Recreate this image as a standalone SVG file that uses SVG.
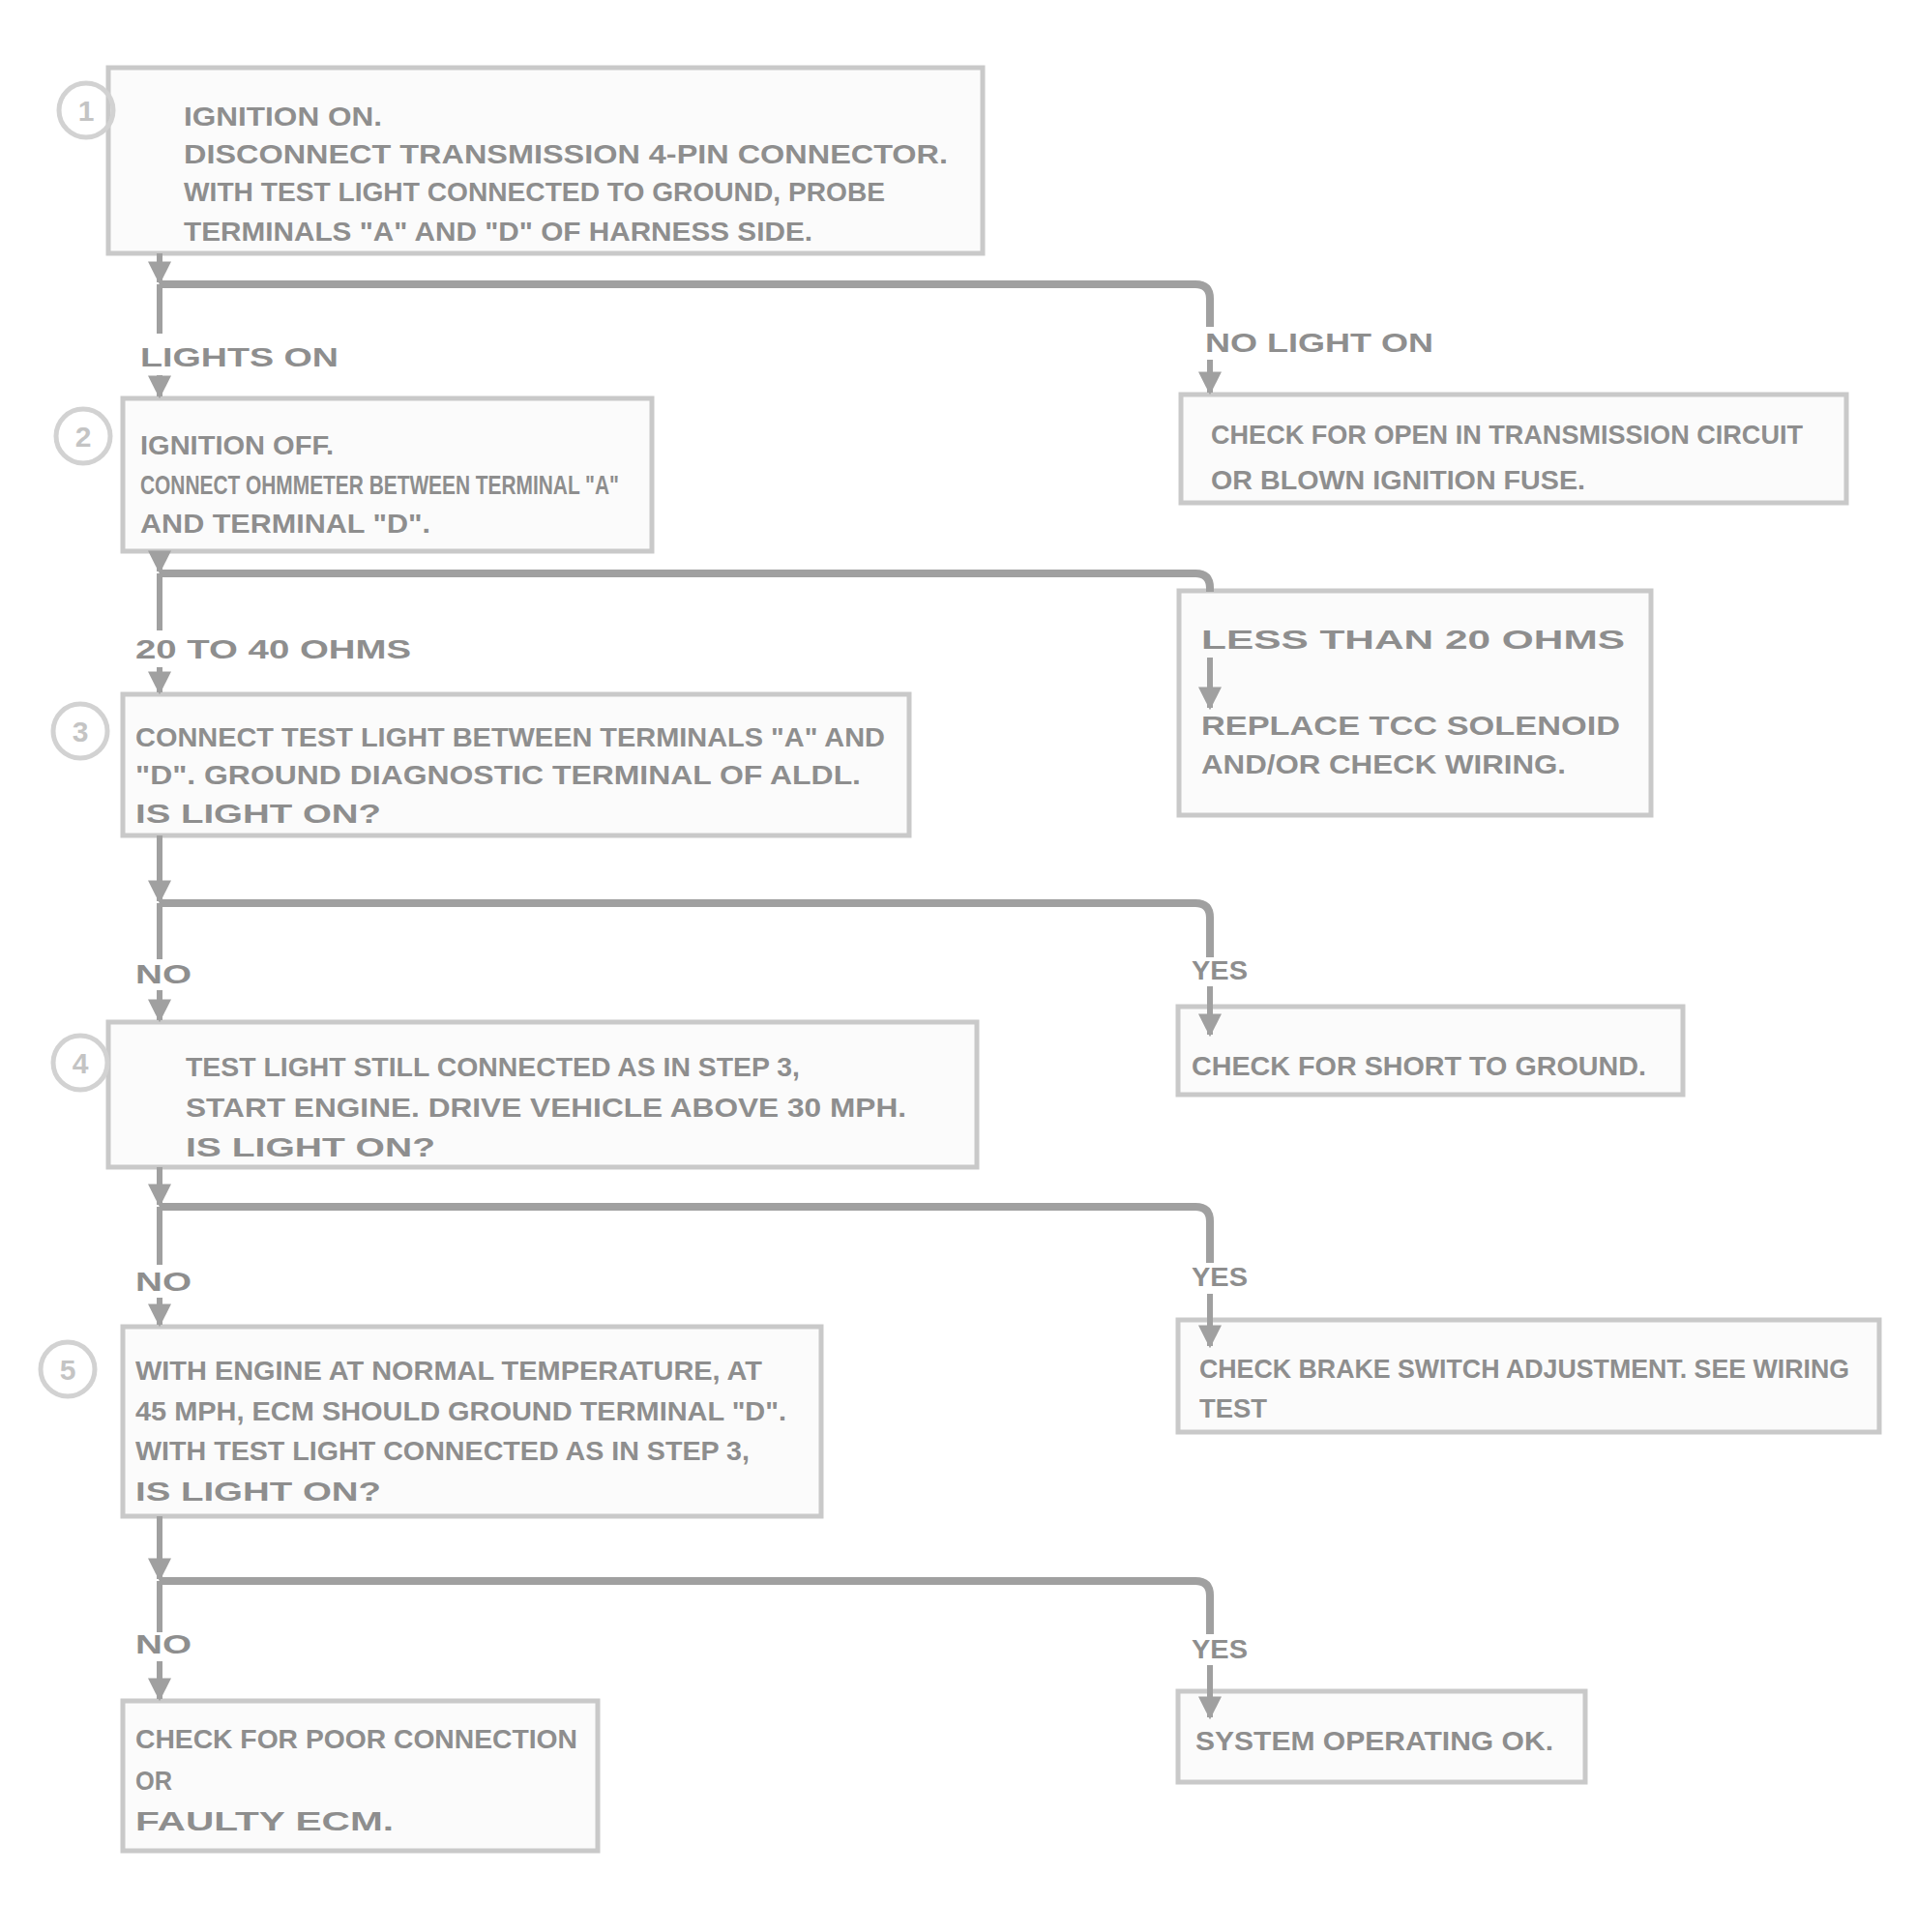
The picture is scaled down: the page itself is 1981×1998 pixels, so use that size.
<svg xmlns="http://www.w3.org/2000/svg" width="1981" height="1998" viewBox="0 0 1981 1998">
<style>
.box{fill:#fbfbfb;stroke:#c9c9c9;stroke-width:5}
.t{font-family:"Liberation Sans",Arial,sans-serif;font-weight:bold;font-size:28px;fill:#8e8e8e}
.num{font-family:"Liberation Sans",Arial,sans-serif;font-weight:bold;font-size:30px;fill:#c4c4c4;text-anchor:middle}
.circ{fill:none;stroke:#d2d2d2;stroke-width:5}
.ln{fill:none;stroke:#a0a0a0;stroke-width:8;stroke-linejoin:round}
.ar{fill:none;stroke:#a0a0a0;stroke-width:6}
</style>
<defs>
<marker id="ah" viewBox="0 0 10 10" refX="9" refY="5" markerWidth="4" markerHeight="4" orient="auto" markerUnits="strokeWidth">
<path d="M0,0 L10,5 L0,10 z" fill="#a0a0a0"/>
</marker>
</defs>
<rect width="1981" height="1998" fill="#ffffff"/>

<g id="step1">
<rect class="box" x="112" y="70" width="904" height="192"/>
<circle class="circ" cx="89" cy="114" r="28"/>
<text class="num" x="89" y="125">1</text>
<text class="t" x="190" y="130" textLength="205" lengthAdjust="spacingAndGlyphs">IGNITION ON.</text>
<text class="t" x="190" y="169" textLength="790" lengthAdjust="spacingAndGlyphs">DISCONNECT TRANSMISSION 4-PIN CONNECTOR.</text>
<text class="t" x="190" y="208" textLength="725" lengthAdjust="spacingAndGlyphs">WITH TEST LIGHT CONNECTED TO GROUND, PROBE</text>
<text class="t" x="190" y="249" textLength="650" lengthAdjust="spacingAndGlyphs">TERMINALS "A" AND "D" OF HARNESS SIDE.</text>
</g>

<g id="label1L"><text class="t" x="145" y="379" textLength="205" lengthAdjust="spacingAndGlyphs">LIGHTS ON</text></g>
<g id="label1R"><text class="t" x="1246" y="364" textLength="236" lengthAdjust="spacingAndGlyphs">NO LIGHT ON</text></g>

<g id="result1">
<rect class="box" x="1221" y="408" width="688" height="112"/>
<text class="t" x="1252" y="459" textLength="612" lengthAdjust="spacingAndGlyphs">CHECK FOR OPEN IN TRANSMISSION CIRCUIT</text>
<text class="t" x="1252" y="506" textLength="387" lengthAdjust="spacingAndGlyphs">OR BLOWN IGNITION FUSE.</text>
</g>

<g id="step2">
<rect class="box" x="127" y="412" width="547" height="158"/>
<circle class="circ" cx="86" cy="451" r="28"/>
<text class="num" x="86" y="462">2</text>
<text class="t" x="145" y="470" textLength="200" lengthAdjust="spacingAndGlyphs">IGNITION OFF.</text>
<text class="t" x="145" y="511" textLength="495" lengthAdjust="spacingAndGlyphs">CONNECT OHMMETER BETWEEN TERMINAL "A"</text>
<text class="t" x="145" y="551" textLength="300" lengthAdjust="spacingAndGlyphs">AND TERMINAL "D".</text>
</g>

<g id="label2L"><text class="t" x="140" y="681" textLength="285" lengthAdjust="spacingAndGlyphs">20 TO 40 OHMS</text></g>

<g id="result2">
<rect class="box" x="1219" y="611" width="488" height="232"/>
<text class="t" x="1242" y="671" textLength="438" lengthAdjust="spacingAndGlyphs">LESS THAN 20 OHMS</text>
<text class="t" x="1242" y="760" textLength="433" lengthAdjust="spacingAndGlyphs">REPLACE TCC SOLENOID</text>
<text class="t" x="1242" y="800" textLength="377" lengthAdjust="spacingAndGlyphs">AND/OR CHECK WIRING.</text>
</g>

<g id="step3">
<rect class="box" x="127" y="718" width="813" height="146"/>
<circle class="circ" cx="83" cy="756" r="28"/>
<text class="num" x="83" y="767">3</text>
<text class="t" x="140" y="772" textLength="775" lengthAdjust="spacingAndGlyphs">CONNECT TEST LIGHT BETWEEN TERMINALS "A" AND</text>
<text class="t" x="140" y="811" textLength="750" lengthAdjust="spacingAndGlyphs">"D". GROUND DIAGNOSTIC TERMINAL OF ALDL.</text>
<text class="t" x="140" y="851" textLength="254" lengthAdjust="spacingAndGlyphs">IS LIGHT ON?</text>
</g>

<g id="label3L"><text class="t" x="140" y="1017" textLength="58" lengthAdjust="spacingAndGlyphs">NO</text></g>
<g id="label3R"><text class="t" x="1232" y="1013" textLength="58" lengthAdjust="spacingAndGlyphs">YES</text></g>

<g id="result3">
<rect class="box" x="1218" y="1041" width="522" height="91"/>
<text class="t" x="1232" y="1112" textLength="470" lengthAdjust="spacingAndGlyphs">CHECK FOR SHORT TO GROUND.</text>
</g>

<g id="step4">
<rect class="box" x="112" y="1057" width="898" height="150"/>
<circle class="circ" cx="83" cy="1099" r="28"/>
<text class="num" x="83" y="1110">4</text>
<text class="t" x="192" y="1113" textLength="635" lengthAdjust="spacingAndGlyphs">TEST LIGHT STILL CONNECTED AS IN STEP 3,</text>
<text class="t" x="192" y="1155" textLength="745" lengthAdjust="spacingAndGlyphs">START ENGINE. DRIVE VEHICLE ABOVE 30 MPH.</text>
<text class="t" x="192" y="1196" textLength="258" lengthAdjust="spacingAndGlyphs">IS LIGHT ON?</text>
</g>

<g id="label4L"><text class="t" x="140" y="1335" textLength="58" lengthAdjust="spacingAndGlyphs">NO</text></g>
<g id="label4R"><text class="t" x="1232" y="1330" textLength="58" lengthAdjust="spacingAndGlyphs">YES</text></g>

<g id="result4">
<rect class="box" x="1218" y="1365" width="725" height="116"/>
<text class="t" x="1240" y="1425" textLength="672" lengthAdjust="spacingAndGlyphs">CHECK BRAKE SWITCH ADJUSTMENT. SEE WIRING</text>
<text class="t" x="1240" y="1466" textLength="70" lengthAdjust="spacingAndGlyphs">TEST</text>
</g>

<g id="step5">
<rect class="box" x="127" y="1372" width="722" height="196"/>
<circle class="circ" cx="70" cy="1416" r="28"/>
<text class="num" x="70" y="1427">5</text>
<text class="t" x="140" y="1427" textLength="648" lengthAdjust="spacingAndGlyphs">WITH ENGINE AT NORMAL TEMPERATURE, AT</text>
<text class="t" x="140" y="1469" textLength="673" lengthAdjust="spacingAndGlyphs">45 MPH, ECM SHOULD GROUND TERMINAL "D".</text>
<text class="t" x="140" y="1510" textLength="635" lengthAdjust="spacingAndGlyphs">WITH TEST LIGHT CONNECTED AS IN STEP 3,</text>
<text class="t" x="140" y="1552" textLength="254" lengthAdjust="spacingAndGlyphs">IS LIGHT ON?</text>
</g>

<g id="label5L"><text class="t" x="140" y="1710" textLength="58" lengthAdjust="spacingAndGlyphs">NO</text></g>
<g id="label5R"><text class="t" x="1232" y="1715" textLength="58" lengthAdjust="spacingAndGlyphs">YES</text></g>

<g id="result5">
<rect class="box" x="1218" y="1749" width="421" height="94"/>
<text class="t" x="1236" y="1810" textLength="370" lengthAdjust="spacingAndGlyphs">SYSTEM OPERATING OK.</text>
</g>

<g id="final">
<rect class="box" x="127" y="1759" width="491" height="155"/>
<text class="t" x="140" y="1808" textLength="457" lengthAdjust="spacingAndGlyphs">CHECK FOR POOR CONNECTION</text>
<text class="t" x="140" y="1851" textLength="38" lengthAdjust="spacingAndGlyphs">OR</text>
<text class="t" x="140" y="1893" textLength="267" lengthAdjust="spacingAndGlyphs">FAULTY ECM.</text>
</g>

<g id="connectors">
<line class="ar" x1="165" y1="262" x2="165" y2="292" marker-end="url(#ah)"/>
<path class="ln" d="M165,294 H1236 Q1251,294 1251,309 V338"/>
<line class="ar" x1="165" y1="294" x2="165" y2="345"/>
<line class="ar" x1="165" y1="388" x2="165" y2="410" marker-end="url(#ah)"/>
<line class="ar" x1="1251" y1="372" x2="1251" y2="406" marker-end="url(#ah)"/>

<line class="ar" x1="165" y1="570" x2="165" y2="591" marker-end="url(#ah)"/>
<path class="ln" d="M165,593 H1236 Q1251,593 1251,608 V612"/>
<line class="ar" x1="165" y1="593" x2="165" y2="652"/>
<line class="ar" x1="165" y1="690" x2="165" y2="716" marker-end="url(#ah)"/>
<line class="ar" x1="1251" y1="680" x2="1251" y2="732" marker-end="url(#ah)"/>

<line class="ar" x1="165" y1="864" x2="165" y2="932" marker-end="url(#ah)"/>
<path class="ln" d="M165,934 H1236 Q1251,934 1251,949 V990"/>
<line class="ar" x1="165" y1="934" x2="165" y2="992"/>
<line class="ar" x1="165" y1="1024" x2="165" y2="1055" marker-end="url(#ah)"/>
<line class="ar" x1="1251" y1="1020" x2="1251" y2="1070" marker-end="url(#ah)"/>

<line class="ar" x1="165" y1="1207" x2="165" y2="1246" marker-end="url(#ah)"/>
<path class="ln" d="M165,1248 H1236 Q1251,1248 1251,1263 V1306"/>
<line class="ar" x1="165" y1="1248" x2="165" y2="1308"/>
<line class="ar" x1="165" y1="1342" x2="165" y2="1370" marker-end="url(#ah)"/>
<line class="ar" x1="1251" y1="1338" x2="1251" y2="1392" marker-end="url(#ah)"/>

<line class="ar" x1="165" y1="1568" x2="165" y2="1633" marker-end="url(#ah)"/>
<path class="ln" d="M165,1635 H1236 Q1251,1635 1251,1650 V1690"/>
<line class="ar" x1="165" y1="1635" x2="165" y2="1688"/>
<line class="ar" x1="165" y1="1718" x2="165" y2="1757" marker-end="url(#ah)"/>
<line class="ar" x1="1251" y1="1722" x2="1251" y2="1776" marker-end="url(#ah)"/>
</g>
</svg>
